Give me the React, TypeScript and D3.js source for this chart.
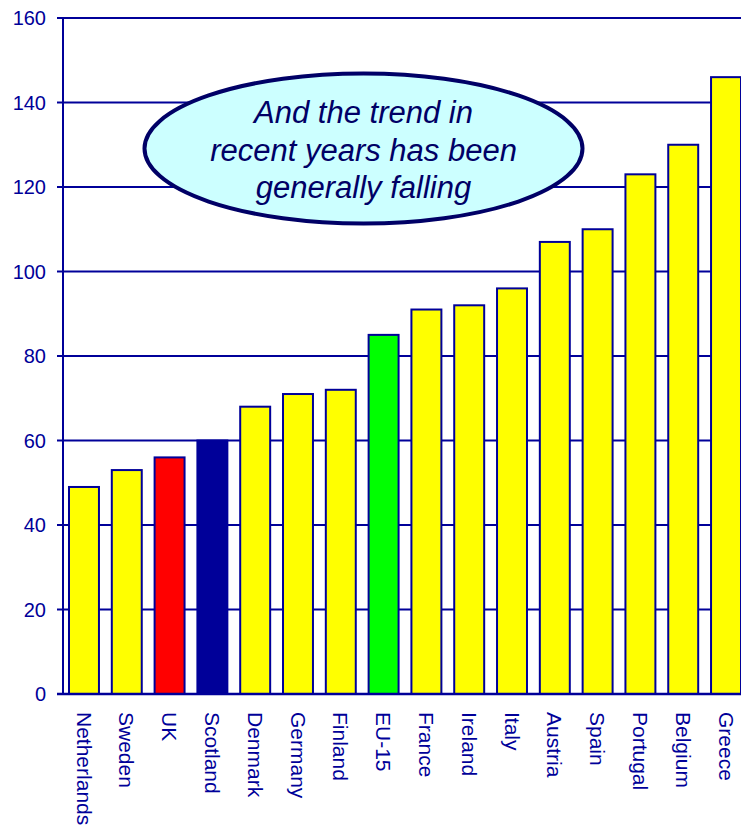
import React from "react";
import * as d3 from "d3";

const countries = ["Netherlands","Sweden","UK","Scotland","Denmark","Germany","Finland","EU-15","France","Ireland","Italy","Austria","Spain","Portugal","Belgium","Greece"];
const values = [49,53,56,60,68,71,72,85,91,92,96,107,110,123,130,146];
const barColors = ["#ffff00","#ffff00","#ff0000","#000099","#ffff00","#ffff00","#ffff00","#00ff00","#ffff00","#ffff00","#ffff00","#ffff00","#ffff00","#ffff00","#ffff00","#ffff00"];
const yTicks = [0,20,40,60,80,100,120,140,160];
const noteLines = ["And the trend in","recent years has been","generally falling"];

const W = 741, H = 827;
const NAVY = "#000099";
const FONT = "Liberation Sans, Arial, sans-serif";

export default function App() {
  const x = d3.scaleBand<string>().domain(countries).range([63, 747]).paddingInner(0.3).paddingOuter(0.14);
  const y = d3.scaleLinear().domain([0, 160]).range([694, 18]);
  const cx = 363.5, cy = 148.5;
  return (
    <svg width={W} height={H} style={{ position: "absolute", left: 0, top: 0 }} fontFamily={FONT}>
      <rect width={W} height={H} fill="#fff" />
      {yTicks.map((t) => (
        <g key={t}>
          {t > 0 && <line x1={63} x2={W} y1={y(t)} y2={y(t)} stroke={NAVY} strokeWidth={2} />}
          <line x1={57} x2={63} y1={y(t)} y2={y(t)} stroke={NAVY} strokeWidth={2} />
          <text x={46} y={y(t)} dy="0.35em" textAnchor="end" fontSize={20} fill={NAVY}>{t}</text>
        </g>
      ))}
      {countries.map((c, i) => (
        <rect key={c} x={x(c)} y={y(values[i])} width={x.bandwidth()} height={y(0) - y(values[i])}
          fill={barColors[i]} stroke={NAVY} strokeWidth={2} />
      ))}
      <line x1={63} x2={63} y1={17} y2={695} stroke={NAVY} strokeWidth={2} />
      <line x1={57} x2={W} y1={694} y2={694} stroke={NAVY} strokeWidth={2.5} />
      {countries.map((c) => {
        const px = (x(c) as number) + x.bandwidth() / 2;
        return (
          <text key={c} transform={`translate(${px},712) rotate(90)`} dy="0.35em" fontSize={21} fill={NAVY}>{c}</text>
        );
      })}
      <ellipse cx={cx} cy={cy} rx={219} ry={75} fill="#ccffff" stroke="#000066" strokeWidth={4} />
      {noteLines.map((l, i) => (
        <text key={l} x={cx} y={123 + i * 37.5} textAnchor="middle" fontSize={31} fontStyle="italic" fill="#000066">{l}</text>
      ))}
    </svg>
  );
}
